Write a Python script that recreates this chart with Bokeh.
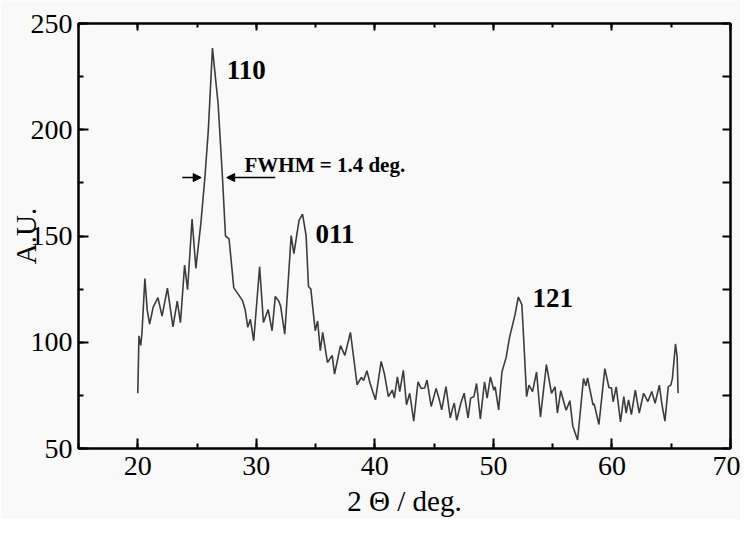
from bokeh.plotting import figure
from bokeh.models import (Range1d, LinearAxis, SingleIntervalTicker, Label, Arrow,
                          NormalHead, ColumnDataSource, CustomLabelingPolicy)
from bokeh.embed import file_html
from bokeh.resources import INLINE

# ---- data ----
two_theta = [20.0, 20.1, 20.25, 20.35, 20.6, 20.8, 21.0, 21.3, 21.7, 22.05, 22.5, 22.97,
             23.33, 23.6, 23.95, 24.2, 24.58, 24.9, 25.33, 25.67, 25.95, 26.3, 26.78,
             27.14, 27.4, 27.7, 28.1, 28.5, 28.83, 29.06, 29.28, 29.5, 29.78, 30.28,
             30.6, 31.0, 31.33, 31.6, 31.9, 32.05, 32.4, 32.94, 33.17, 33.6, 33.9, 34.2,
             34.4, 34.6, 34.97, 35.17, 35.4, 35.6, 36.0, 36.4, 36.6, 37.1, 37.47, 37.94,
             38.5, 38.86, 39.05, 39.33, 39.6, 40.05, 40.53, 40.8, 41.14, 41.47, 41.64,
             41.9, 42.1, 42.4, 42.67, 42.94, 43.28, 43.64, 43.9, 44.2, 44.4, 44.75,
             45.17, 45.44, 45.64, 46.0, 46.36, 46.56, 46.7, 46.9, 47.25, 47.53, 47.86,
             48.08, 48.36, 48.58, 48.9, 49.25, 49.47, 49.75, 50.03, 50.15, 50.44, 50.72,
             51.08, 51.36, 51.56, 51.83, 52.1, 52.4, 52.55, 52.8, 53.0, 53.3, 53.64,
             53.97, 54.47, 54.9, 55.2, 55.4, 55.68, 56.0, 56.14, 56.45, 56.7, 57.1,
             57.4, 57.6, 57.8, 57.94, 58.4, 58.5, 58.9, 59.4, 59.75, 59.95, 60.1, 60.36,
             60.72, 61.0, 61.2, 61.4, 61.64, 61.97, 62.3, 62.67, 63.03, 63.36, 63.64,
             64.0, 64.2, 64.47, 64.75, 64.97, 65.1, 65.36, 65.5, 65.58]
intensity = [76, 103, 98.5, 104, 130, 115, 108.5, 116.5, 121, 112.3, 125.5, 107.2,
             119.3, 109.2, 136.3, 124.7, 158, 134.8, 156.4, 178, 199.7, 238.4, 212,
             178, 150, 148.7, 125.6, 122.4, 119.6, 115.4, 107, 110.8, 100.7, 135.5,
             109.3, 115.4, 105.4, 121.6, 119.3, 117, 103.8, 150.2, 141.7, 157.2, 160.3, 150.2,
             126.2, 125, 105.4, 110, 96, 104.6, 90.5, 93.8, 85, 98.4, 93.8, 104.6,
             80, 83.5, 82, 86.6, 80.6, 72.9, 91, 85.3, 74.4, 77.5, 73.7,
             83.7, 76.8, 86.8, 70.6, 76, 62.9, 81.4, 78.3, 78.5, 82.2, 69.8,
             78.3, 72.9, 68.2, 79.1, 64.4, 69, 71.4, 63.3, 71.3, 76, 64.4,
             73.7, 74.5, 80.6, 63.9, 81.4, 73.7, 83.7, 77.5, 79, 68.2, 86,
             93, 102.3, 106.9, 113.1, 121.3, 117.7, 102, 74.4, 79.8, 76.8, 86,
             64.8, 89.5, 76, 79, 66.7, 77.2, 70.6, 68, 72.5, 60.5, 54,
             71.3, 82.9, 79.5, 83.2, 70.6, 71, 61.3, 87.6, 78.6, 78.6, 72, 79,
             62.5, 74.4, 66.7, 72.9, 65.9, 77.5, 66.7, 76, 72.1, 76.8, 71.3,
             79.8, 71.3, 62.9, 79.1, 79.8, 83, 99.2, 93, 76]

peak_labels = ["110", "011", "121"]
peak_label_x = [27.5, 35.0, 53.3]
peak_label_y = [228.0, 150.9, 120.8]

fwhm_text = "FWHM = 1.4 deg."
fwhm_text_x = 29.0
fwhm_text_y = 183.5
fwhm_left_arrow = (23.75, 25.35)   # x start, x end (points right)
fwhm_right_arrow = (31.6, 27.5)    # x start, x end (points left)
fwhm_arrow_y = 177.5

x_label = "2 \u0398 / deg."
y_label = "A.U."

FONT = "Liberation Serif"
BG = "#f9f9f9"

p = figure(width=740, height=519, output_backend="svg", toolbar_location=None,
           x_range=Range1d(15, 70), y_range=Range1d(50, 250),
           min_border_left=78, min_border_right=10, min_border_top=23, min_border_bottom=71,
           background_fill_color=BG, border_fill_color=BG)
p.grid.visible = False
p.outline_line_color = "black"
p.outline_line_width = 2

src = ColumnDataSource(dict(x=two_theta, y=intensity))
p.line("x", "y", source=src, line_color="#3c3c3c", line_width=1.6)

# bottom axis
xa = p.xaxis[0]
xa.ticker = SingleIntervalTicker(interval=10, num_minor_ticks=2)
# left axis
ya = p.yaxis[0]
ya.ticker = SingleIntervalTicker(interval=50, num_minor_ticks=2)

for ax in (xa, ya):
    ax.axis_line_width = 2
    ax.major_tick_in = 10
    ax.major_tick_out = 0
    ax.minor_tick_in = 5
    ax.minor_tick_out = 0
    ax.major_tick_line_width = 2
    ax.minor_tick_line_width = 2
    ax.major_label_text_font = FONT
    ax.major_label_text_font_size = "28px"
    ax.major_label_text_color = "black"
    ax.axis_label_text_font = FONT
    ax.axis_label_text_font_size = "29px"
    ax.axis_label_text_font_style = "normal"
    ax.axis_label_text_color = "black"

xa.axis_label = x_label
xa.major_label_standoff = 8
xa.axis_label_standoff = 7
ya.axis_label = y_label
ya.major_label_standoff = 6
ya.axis_label_standoff = -14

# mirrored top and right axes (ticks only)
top = LinearAxis(ticker=SingleIntervalTicker(interval=10, num_minor_ticks=2),
                 major_label_text_font_size="1px", major_label_standoff=0,
                 axis_label_standoff=0,
                 major_label_policy=CustomLabelingPolicy(code="return []"),
                 axis_line_width=2,
                 major_tick_in=7, major_tick_out=0, minor_tick_in=4, minor_tick_out=0,
                 major_tick_line_width=2, minor_tick_line_width=2)
p.add_layout(top, "above")
right = LinearAxis(ticker=SingleIntervalTicker(interval=25, num_minor_ticks=0),
                   major_label_text_font_size="1px", major_label_standoff=0,
                   axis_label_standoff=0,
                   major_label_policy=CustomLabelingPolicy(code="return []"),
                   axis_line_width=2,
                   major_tick_in=8, major_tick_out=0, minor_tick_in=0, minor_tick_out=0,
                   major_tick_line_width=2)
p.add_layout(right, "right")

for t, lx, ly in zip(peak_labels, peak_label_x, peak_label_y):
    p.add_layout(Label(x=lx, y=ly, text=t, text_font=FONT, text_font_size="27px",
                       text_font_style="bold", text_color="black",
                       text_baseline="middle"))

p.add_layout(Label(x=fwhm_text_x, y=fwhm_text_y, text=fwhm_text, text_font=FONT,
                   text_font_size="21px", text_font_style="bold", text_color="black",
                   text_baseline="middle"))

for xs, xe in (fwhm_left_arrow, fwhm_right_arrow):
    p.add_layout(Arrow(end=NormalHead(size=8, fill_color="black", line_color="black"),
                       x_start=xs, y_start=fwhm_arrow_y, x_end=xe, y_end=fwhm_arrow_y,
                       line_color="black", line_width=1.5))

open("out.html", "w").write(file_html(p, INLINE))
